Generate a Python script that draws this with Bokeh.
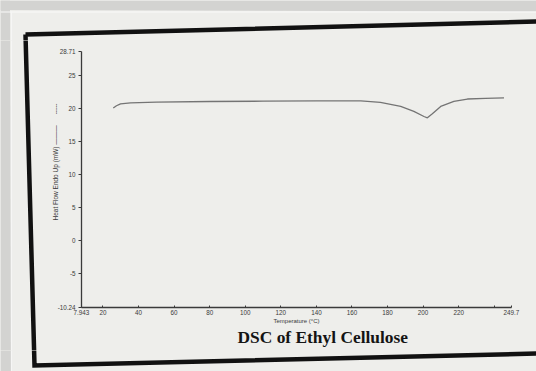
from bokeh.plotting import figure
from bokeh.layouts import column, row
from bokeh.models import FixedTicker, Range1d, Title
from bokeh.embed import file_html
from bokeh.resources import INLINE

# ---- data ----
temperature = [25.8, 27.6, 29.9, 35.5, 50, 80, 110, 140, 165, 176, 187.4, 194.8,
               200.5, 202.4, 205.2, 209.9, 217.3, 224.9, 235, 245.5]
heat_flow = [20.1, 20.45, 20.75, 20.9, 21.0, 21.1, 21.15, 21.2, 21.2, 20.96, 20.35, 19.6,
             18.82, 18.62, 19.24, 20.35, 21.12, 21.48, 21.58, 21.64]

x_ticks = [7.943, 20, 40, 60, 80, 100, 120, 140, 160, 180, 200, 220, 240, 249.7]
x_tick_labels = ["7.943", "20", "40", "60", "80", "100", "120", "140", "160", "180",
                 "200", "220", "", "249.7"]
y_ticks = [-10.24, -5, 0, 5, 10, 15, 20, 25, 28.71]
y_tick_labels = ["-10.24", "-5", "0", "5", "10", "15", "20", "25", "28.71"]

title_text = "DSC of Ethyl Cellulose"
y_label_text = ("Heat Flow Endo Up (mW)\u00a0\u2014\u2014\u2014"
                "\u00a0\u00a0\u00a0\u00a0\u00a0\u00a0-----")
x_label_text = "Temperature (\u00b0C)"

# ---- styling ----
PAPER = "#eeeeeb"
EDGE = "#d3d3d1"
INK = "#3a3a3a"
FONT = "Liberation Sans"
W, H = 536, 371
TOP_H, LEFT_W, BOT_H = 40, 40, 21

# photographed sheet: grey surroundings and the thick tilted frame (page pixels)
edge_top = ([0, W, W, 0], [0, 0, 11, 9.5])
edge_left = ([0, 9.5, 10.5, 0], [0, 0, H, H])
frame_xs = [25, 575, 581, 34, 25]
frame_ys = [34, 20, 352, 365, 34]


def no_align(f):
    if "frame_align" in f.properties():
        f.frame_align = False


def strip(width, height, x0, y0):
    f = figure(width=width, height=height, output_backend="svg", toolbar_location=None,
               x_range=Range1d(x0, x0 + width), y_range=Range1d(y0 + height, y0),
               min_border=0, x_axis_location=None, y_axis_location=None)
    f.grid.visible = False
    f.outline_line_color = None
    f.background_fill_color = PAPER
    f.border_fill_color = PAPER
    f.patch(*edge_top, fill_color=EDGE, line_color=None)
    f.patch(*edge_left, fill_color=EDGE, line_color=None)
    f.line([0, W], [11.5, 11.5], line_color="#fafafa", line_width=1.2)
    f.line([11, 11], [11, H], line_color="#f6f6f5", line_width=1.2)
    f.line(frame_xs, frame_ys, line_color="#111111", line_width=4.5,
           line_join="miter")
    no_align(f)
    return f


top = strip(W, TOP_H, 0, 0)
left = strip(LEFT_W, H - TOP_H - BOT_H, 0, TOP_H)
bottom = strip(W, BOT_H, 0, H - BOT_H)

p = figure(width=W - LEFT_W, height=H - TOP_H - BOT_H, output_backend="svg",
           toolbar_location=None,
           x_range=Range1d(x_ticks[0], x_ticks[-1]),
           y_range=Range1d(y_ticks[0], y_ticks[-1]),
           min_border_left=41, min_border_right=25, min_border_top=11,
           min_border_bottom=43)
no_align(p)
p.background_fill_color = PAPER
p.border_fill_color = PAPER
p.outline_line_color = None
p.xgrid.visible = False
p.ygrid.visible = False

p.line(temperature, heat_flow, line_color="#747474", line_width=1.3)

for ax in (p.xaxis[0], p.yaxis[0]):
    ax.axis_line_color = INK
    ax.axis_line_width = 1.3
    ax.major_tick_line_color = INK
    ax.minor_tick_line_color = None
    ax.major_label_text_font = FONT
    ax.major_label_text_font_size = "6.3px"
    ax.major_label_text_color = INK

p.xaxis.ticker = FixedTicker(ticks=x_ticks)
p.xaxis.major_label_overrides = {t: l for t, l in zip(x_ticks, x_tick_labels)}
p.xaxis.major_tick_in = 2
p.xaxis.major_tick_out = 0
p.xaxis.major_label_standoff = 2
p.xaxis.axis_label = x_label_text
p.xaxis.axis_label_text_font = FONT
p.xaxis.axis_label_text_font_size = "6px"
p.xaxis.axis_label_text_font_style = "normal"
p.xaxis.axis_label_text_color = INK
p.xaxis.axis_label_standoff = 0

p.yaxis.ticker = FixedTicker(ticks=y_ticks)
p.yaxis.major_label_overrides = {t: l for t, l in zip(y_ticks, y_tick_labels)}
p.yaxis.major_tick_in = 0
p.yaxis.major_tick_out = 3
p.yaxis.major_label_standoff = 3

p.add_layout(Title(text=y_label_text, align="right", offset=52, standoff=-8,
                   text_font=FONT, text_font_size="6.5px", text_font_style="normal",
                   text_color=INK), "left")
p.add_layout(Title(text=title_text, align="left", offset=156, standoff=-3,
                   text_font="Liberation Serif", text_font_size="17.4px",
                   text_font_style="bold", text_color="#141414"), "below")

inner = row(column(left, styles={"background-color": PAPER}), p,
            styles={"background-color": PAPER})
layout = column(top, inner, bottom, styles={"background-color": PAPER})
open("out.html", "w").write(file_html(layout, INLINE))
